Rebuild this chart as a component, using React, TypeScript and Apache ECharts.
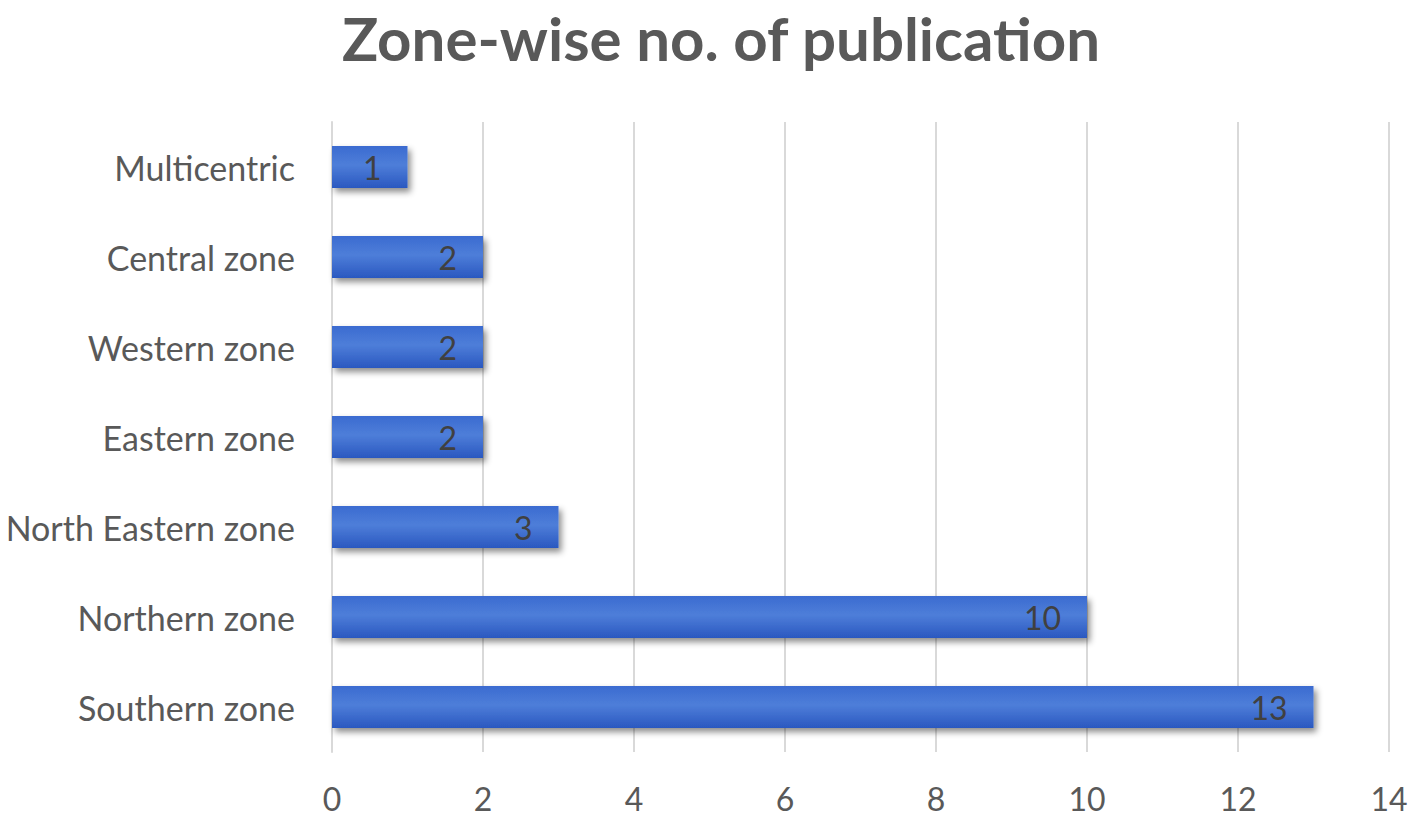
import React, { useEffect, useRef } from "react";
import * as echarts from "echarts";

const categories = [
  "Southern zone",
  "Northern zone",
  "North Eastern zone",
  "Eastern zone",
  "Western zone",
  "Central zone",
  "Multicentric",
];
const values = [13, 10, 3, 2, 2, 2, 1];
const xTicks = { min: 0, max: 14, interval: 2 };
const title = "Zone-wise no. of publication";

export default function App() {
  const ref = useRef<HTMLDivElement>(null);
  useEffect(() => {
    document.body.style.margin = "0";
    const chart = echarts.init(ref.current!, null, { renderer: "svg" });
    const font = "Lato, 'Open Sans', sans-serif";
    chart.setOption({
      animation: false,
      backgroundColor: "#ffffff",
      title: {
        text: title,
        left: 716,
        top: 3,
        textAlign: "center",
        textStyle: {
          fontFamily: font,
          fontWeight: "bold",
          fontSize: 60,
          lineHeight: 60,
          color: "#595959",
        },
      },
      grid: { left: 332, right: 29, top: 122, bottom: 67 },
      xAxis: {
        type: "value",
        min: xTicks.min,
        max: xTicks.max,
        interval: xTicks.interval,
        axisLine: { show: false },
        axisTick: { show: false },
        splitLine: { show: true, lineStyle: { color: "#d9d9d9", width: 2 } },
        axisLabel: {
          fontFamily: font,
          fontSize: 32,
          color: "#595959",
          margin: 30,
        },
      },
      yAxis: {
        type: "category",
        data: categories,
        axisLine: { show: true, lineStyle: { color: "#d9d9d9", width: 2 } },
        axisTick: { show: false },
        axisLabel: {
          fontFamily: font,
          fontSize: 34,
          color: "#595959",
          margin: 37,
        },
      },
      series: [
        {
          type: "bar",
          data: values,
          barWidth: 42,
          itemStyle: {
            color: new echarts.graphic.LinearGradient(0, 0, 0, 1, [
              { offset: 0, color: "#3b6bd0" },
              { offset: 0.45, color: "#4e7ed9" },
              { offset: 1, color: "#2a58c0" },
            ]),
            shadowColor: "rgba(0,0,0,0.45)",
            shadowBlur: 6,
            shadowOffsetX: 3,
            shadowOffsetY: 4,
          },
          label: {
            show: true,
            position: "insideRight",
            distance: 26,
            fontFamily: font,
            fontSize: 32,
            color: "#404040",
          },
        },
      ],
    });
    return () => chart.dispose();
  }, []);
  return <div ref={ref} style={{ width: 1418, height: 819 }} />;
}
